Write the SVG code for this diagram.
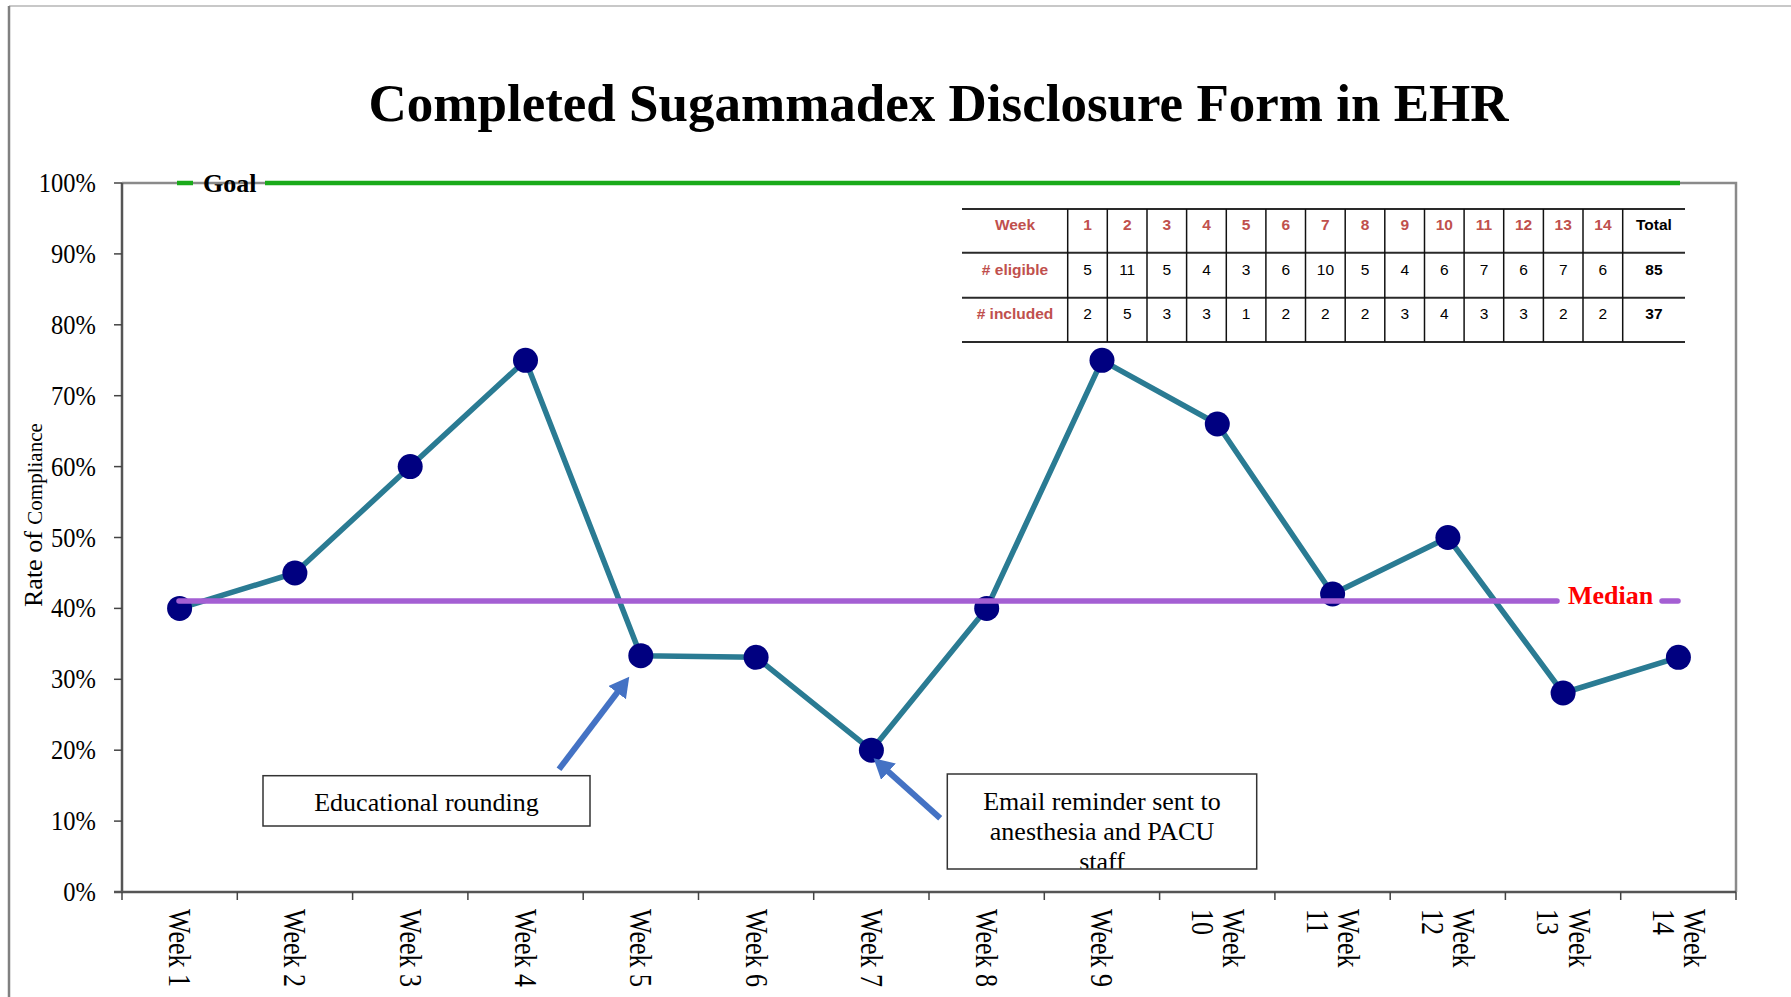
<svg xmlns="http://www.w3.org/2000/svg" width="1791" height="997" viewBox="0 0 1791 997">
  <style>
    .serif { font-family: "Liberation Serif", "Times New Roman", serif; fill: #000; }
    .sans { font-family: "Liberation Sans", Arial, sans-serif; font-size: 15.5px; }
    .title { font-size: 53px; font-weight: bold; }
    .ylab { font-size: 24.5px; text-anchor: end; }
    .xlab { font-size: 26px; }
    .note { font-size: 26px; text-anchor: middle; }
    .refl { font-size: 26px; font-weight: bold; }
    .hdr { fill: #c0504d; font-weight: bold; text-anchor: middle; }
    .val { fill: #000; text-anchor: middle; }
    .tot { fill: #000; font-weight: bold; text-anchor: middle; }
    .axis { stroke: #555; stroke-width: 2.5; fill: none; }
    .frame { stroke: #8a8a8a; stroke-width: 2.5; fill: none; }
    .tick { stroke: #444; stroke-width: 1.5; }
    .goal { stroke: #1aaa1a; stroke-width: 4.5; }
    .median { stroke: #a45fd3; stroke-width: 5.5; stroke-linecap: round; }
    .series { stroke: #2a7b93; stroke-width: 5.5; fill: none; stroke-linejoin: round; }
    .dot { fill: #000080; }
    .arrow { stroke: #4472c4; stroke-width: 6; marker-end: url(#head); }
    .box { fill: #fff; stroke: #333; stroke-width: 1.5; }
    .hline { stroke: #2a2a2a; stroke-width: 2; }
    .vline { stroke: #111; stroke-width: 1.5; }
  </style>
  <defs>
    <marker id="head" markerUnits="userSpaceOnUse" markerWidth="22" markerHeight="24" refX="6" refY="11" orient="auto">
      <path d="M0,0 L20,11 L0,22 Z" fill="#4472c4"/>
    </marker>
    <clipPath id="emailClip">
      <rect x="947" y="774" width="310" height="94.5"/>
    </clipPath>
  </defs>

  <rect width="1791" height="997" fill="#fff"/>

  <!-- page edges -->
  <line x1="9" y1="6" x2="1791" y2="6" stroke="#c8c8c8" stroke-width="2"/>
  <line x1="9" y1="6" x2="9" y2="997" stroke="#808080" stroke-width="2.5"/>

  <!-- title -->
  <text id="title" class="serif title" x="938.5" y="121" text-anchor="middle">Completed Sugammadex Disclosure Form in EHR</text>

  <!-- plot area and axes -->
  <g id="axes">
    <polyline class="frame" points="122,183 1736,183 1736,892"/>
    <line class="axis" x1="122" y1="183" x2="122" y2="892"/>
    <line class="axis" x1="114" y1="892" x2="1736" y2="892"/>
    <g class="tick">
      <line x1="114" y1="183" x2="122" y2="183"/>
      <line x1="114" y1="253.9" x2="122" y2="253.9"/>
      <line x1="114" y1="324.8" x2="122" y2="324.8"/>
      <line x1="114" y1="395.7" x2="122" y2="395.7"/>
      <line x1="114" y1="466.6" x2="122" y2="466.6"/>
      <line x1="114" y1="537.5" x2="122" y2="537.5"/>
      <line x1="114" y1="608.4" x2="122" y2="608.4"/>
      <line x1="114" y1="679.3" x2="122" y2="679.3"/>
      <line x1="114" y1="750.2" x2="122" y2="750.2"/>
      <line x1="114" y1="821.1" x2="122" y2="821.1"/>
      <line x1="122" y1="892" x2="122" y2="900"/>
      <line x1="237.3" y1="892" x2="237.3" y2="900"/>
      <line x1="352.6" y1="892" x2="352.6" y2="900"/>
      <line x1="467.9" y1="892" x2="467.9" y2="900"/>
      <line x1="583.2" y1="892" x2="583.2" y2="900"/>
      <line x1="698.5" y1="892" x2="698.5" y2="900"/>
      <line x1="813.7" y1="892" x2="813.7" y2="900"/>
      <line x1="929" y1="892" x2="929" y2="900"/>
      <line x1="1044.3" y1="892" x2="1044.3" y2="900"/>
      <line x1="1159.6" y1="892" x2="1159.6" y2="900"/>
      <line x1="1274.9" y1="892" x2="1274.9" y2="900"/>
      <line x1="1390.2" y1="892" x2="1390.2" y2="900"/>
      <line x1="1505.4" y1="892" x2="1505.4" y2="900"/>
      <line x1="1620.7" y1="892" x2="1620.7" y2="900"/>
      <line x1="1736" y1="892" x2="1736" y2="900"/>
    </g>
  </g>

  <!-- y axis labels -->
  <g id="y-labels" class="serif ylab">
    <text transform="translate(96,192) scale(1,1.12)">100%</text>
    <text transform="translate(96,262.9) scale(1,1.12)">90%</text>
    <text transform="translate(96,333.8) scale(1,1.12)">80%</text>
    <text transform="translate(96,404.7) scale(1,1.12)">70%</text>
    <text transform="translate(96,475.6) scale(1,1.12)">60%</text>
    <text transform="translate(96,546.5) scale(1,1.12)">50%</text>
    <text transform="translate(96,617.4) scale(1,1.12)">40%</text>
    <text transform="translate(96,688.3) scale(1,1.12)">30%</text>
    <text transform="translate(96,759.2) scale(1,1.12)">20%</text>
    <text transform="translate(96,830.1) scale(1,1.12)">10%</text>
    <text transform="translate(96,901) scale(1,1.12)">0%</text>
  </g>

  <!-- y axis title -->
  <g id="y-title" class="serif">
    <text transform="translate(42,607) rotate(-90)" font-size="26">Rate of <tspan font-size="21">Compliance</tspan></text>
  </g>

  <!-- x axis labels -->
  <g id="x-labels" class="serif xlab">
    <text transform="translate(169,909) rotate(90) scale(1,1.25)">Week 1</text>
    <text transform="translate(284.3,909) rotate(90) scale(1,1.25)">Week 2</text>
    <text transform="translate(399.6,909) rotate(90) scale(1,1.25)">Week 3</text>
    <text transform="translate(514.9,909) rotate(90) scale(1,1.25)">Week 4</text>
    <text transform="translate(630.2,909) rotate(90) scale(1,1.25)">Week 5</text>
    <text transform="translate(745.5,909) rotate(90) scale(1,1.25)">Week 6</text>
    <text transform="translate(860.8,909) rotate(90) scale(1,1.25)">Week 7</text>
    <text transform="translate(976.1,909) rotate(90) scale(1,1.25)">Week 8</text>
    <text transform="translate(1091.4,909) rotate(90) scale(1,1.25)">Week 9</text>
    <text transform="translate(1222.7,909) rotate(90) scale(1,1.25)">Week</text>
    <text transform="translate(1191.5,909) rotate(90) scale(1,1.25)">10</text>
    <text transform="translate(1338,909) rotate(90) scale(1,1.25)">Week</text>
    <text transform="translate(1306.8,909) rotate(90) scale(1,1.25)">11</text>
    <text transform="translate(1453.3,909) rotate(90) scale(1,1.25)">Week</text>
    <text transform="translate(1422.1,909) rotate(90) scale(1,1.25)">12</text>
    <text transform="translate(1568.5,909) rotate(90) scale(1,1.25)">Week</text>
    <text transform="translate(1537.3,909) rotate(90) scale(1,1.25)">13</text>
    <text transform="translate(1683.8,909) rotate(90) scale(1,1.25)">Week</text>
    <text transform="translate(1652.6,909) rotate(90) scale(1,1.25)">14</text>
  </g>

  <!-- goal reference line -->
  <g id="goal">
    <line class="goal" x1="177" y1="183" x2="193" y2="183"/>
    <line class="goal" x1="265" y1="183" x2="1680" y2="183"/>
    <text class="serif refl" x="203" y="192">Goal</text>
  </g>

  <!-- weekly compliance series -->
  <g id="series">
    <polyline class="series" points="179.6,608.4 294.9,573 410.2,466.6 525.5,360.3 640.8,655.7 756.1,657.3 871.4,750.2 986.7,608.4 1102,360.3 1217.3,424 1332.6,594 1447.9,537.5 1563.1,693 1678.4,657.3"/>
    <circle class="dot" cx="179.6" cy="608.4" r="12.5"/>
    <circle class="dot" cx="294.9" cy="573" r="12.5"/>
    <circle class="dot" cx="410.2" cy="466.6" r="12.5"/>
    <circle class="dot" cx="525.5" cy="360.3" r="12.5"/>
    <circle class="dot" cx="640.8" cy="655.7" r="12.5"/>
    <circle class="dot" cx="756.1" cy="657.3" r="12.5"/>
    <circle class="dot" cx="871.4" cy="750.2" r="12.5"/>
    <circle class="dot" cx="986.7" cy="608.4" r="12.5"/>
    <circle class="dot" cx="1102" cy="360.3" r="12.5"/>
    <circle class="dot" cx="1217.3" cy="424" r="12.5"/>
    <circle class="dot" cx="1332.6" cy="594" r="12.5"/>
    <circle class="dot" cx="1447.9" cy="537.5" r="12.5"/>
    <circle class="dot" cx="1563.1" cy="693" r="12.5"/>
    <circle class="dot" cx="1678.4" cy="657.3" r="12.5"/>
  </g>

  <!-- median reference line -->
  <g id="median">
    <line class="median" x1="179" y1="601" x2="1557" y2="601" stroke-linecap="butt"/>
    <line class="median" x1="1662" y1="601" x2="1678" y2="601"/>
    <text class="serif refl" x="1568" y="604" style="fill:#ff0000">Median</text>
  </g>

  <!-- annotation connectors -->
  <g id="connectors">
    <line class="arrow" x1="559" y1="769.3" x2="620.8" y2="687.9"/>
    <line class="arrow" x1="940.2" y1="818.3" x2="884" y2="767.7"/>
  </g>

  <!-- annotations -->
  <g id="note-rounding">
    <rect class="box" x="263" y="775.7" width="327" height="50.3"/>
    <text class="serif note" x="426.5" y="810.7">Educational rounding</text>
  </g>
  <g id="note-email">
    <rect class="box" x="947.3" y="774" width="309.4" height="95"/>
    <g clip-path="url(#emailClip)">
      <text class="serif note" x="1102" y="810">Email reminder sent to</text>
      <text class="serif note" x="1102" y="840">anesthesia and PACU</text>
      <text class="serif note" x="1102" y="870">staff</text>
    </g>
  </g>

  <!-- weekly counts table -->
  <g id="counts-table" class="sans">
    <line class="hline" x1="962" y1="209" x2="1685" y2="209"/>
    <line class="hline" x1="962" y1="252.7" x2="1685" y2="252.7"/>
    <line class="hline" x1="962" y1="297.7" x2="1685" y2="297.7"/>
    <line class="hline" x1="962" y1="342" x2="1685" y2="342"/>
    <g class="vline">
      <line x1="1067.7" y1="209" x2="1067.7" y2="342"/>
      <line x1="1107.3" y1="209" x2="1107.3" y2="342"/>
      <line x1="1147" y1="209" x2="1147" y2="342"/>
      <line x1="1186.6" y1="209" x2="1186.6" y2="342"/>
      <line x1="1226.3" y1="209" x2="1226.3" y2="342"/>
      <line x1="1265.9" y1="209" x2="1265.9" y2="342"/>
      <line x1="1305.5" y1="209" x2="1305.5" y2="342"/>
      <line x1="1345.2" y1="209" x2="1345.2" y2="342"/>
      <line x1="1384.8" y1="209" x2="1384.8" y2="342"/>
      <line x1="1424.5" y1="209" x2="1424.5" y2="342"/>
      <line x1="1464.1" y1="209" x2="1464.1" y2="342"/>
      <line x1="1503.7" y1="209" x2="1503.7" y2="342"/>
      <line x1="1543.4" y1="209" x2="1543.4" y2="342"/>
      <line x1="1583" y1="209" x2="1583" y2="342"/>
      <line x1="1622.7" y1="209" x2="1622.7" y2="342"/>
    </g>
    <!-- header row -->
    <text class="hdr" x="1015" y="229.5">Week</text>
    <text class="hdr" x="1087.5" y="229.5">1</text>
    <text class="hdr" x="1127.2" y="229.5">2</text>
    <text class="hdr" x="1166.8" y="229.5">3</text>
    <text class="hdr" x="1206.5" y="229.5">4</text>
    <text class="hdr" x="1246.1" y="229.5">5</text>
    <text class="hdr" x="1285.7" y="229.5">6</text>
    <text class="hdr" x="1325.4" y="229.5">7</text>
    <text class="hdr" x="1365" y="229.5">8</text>
    <text class="hdr" x="1404.7" y="229.5">9</text>
    <text class="hdr" x="1444.3" y="229.5">10</text>
    <text class="hdr" x="1484" y="229.5">11</text>
    <text class="hdr" x="1523.6" y="229.5">12</text>
    <text class="hdr" x="1563.2" y="229.5">13</text>
    <text class="hdr" x="1602.9" y="229.5">14</text>
    <text class="tot" x="1653.9" y="229.5">Total</text>
    <!-- eligible row -->
    <text class="hdr" x="1015" y="274.5"># eligible</text>
    <text class="val" x="1087.5" y="274.5">5</text>
    <text class="val" x="1127.2" y="274.5">11</text>
    <text class="val" x="1166.8" y="274.5">5</text>
    <text class="val" x="1206.5" y="274.5">4</text>
    <text class="val" x="1246.1" y="274.5">3</text>
    <text class="val" x="1285.7" y="274.5">6</text>
    <text class="val" x="1325.4" y="274.5">10</text>
    <text class="val" x="1365" y="274.5">5</text>
    <text class="val" x="1404.7" y="274.5">4</text>
    <text class="val" x="1444.3" y="274.5">6</text>
    <text class="val" x="1484" y="274.5">7</text>
    <text class="val" x="1523.6" y="274.5">6</text>
    <text class="val" x="1563.2" y="274.5">7</text>
    <text class="val" x="1602.9" y="274.5">6</text>
    <text class="tot" x="1653.9" y="274.5">85</text>
    <!-- included row -->
    <text class="hdr" x="1015" y="319"># included</text>
    <text class="val" x="1087.5" y="319">2</text>
    <text class="val" x="1127.2" y="319">5</text>
    <text class="val" x="1166.8" y="319">3</text>
    <text class="val" x="1206.5" y="319">3</text>
    <text class="val" x="1246.1" y="319">1</text>
    <text class="val" x="1285.7" y="319">2</text>
    <text class="val" x="1325.4" y="319">2</text>
    <text class="val" x="1365" y="319">2</text>
    <text class="val" x="1404.7" y="319">3</text>
    <text class="val" x="1444.3" y="319">4</text>
    <text class="val" x="1484" y="319">3</text>
    <text class="val" x="1523.6" y="319">3</text>
    <text class="val" x="1563.2" y="319">2</text>
    <text class="val" x="1602.9" y="319">2</text>
    <text class="tot" x="1653.9" y="319">37</text>
  </g>
</svg>
